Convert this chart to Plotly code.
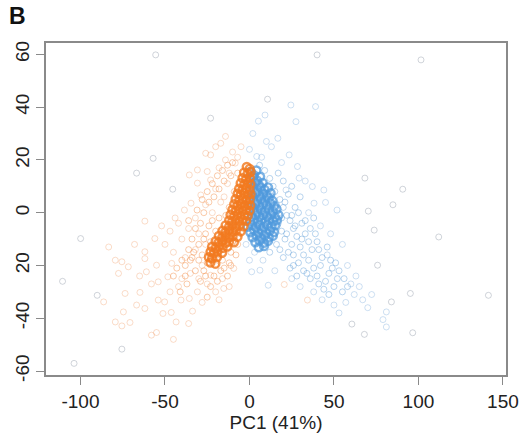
import plotly.graph_objects as go

# ---------------- data ----------------
gray_x = [-55.5, 40.0, 101.5, 10.7, -23.0, -57.0, -66.8, -45.4, -99.9, -110.6, -103.8, -75.5,
          68.3, 90.7, 70.3, 73.8, 112.0, 141.4, 95.2, 84.0, 60.6, 68.0, 96.6, 75.8, -90.1, 84.9]
gray_y = [59.8, 59.8, 57.9, 43.0, 35.8, 20.6, 15.0, 8.9, -9.8, -26.0, -57.1, -51.7,
          13.1, 8.9, 0.6, -6.6, -9.2, -31.3, -30.6, -33.8, -42.2, -46.1, -45.5, -19.9, -31.3, 3.0]

orange_sparse_x = [-14.2, -17.0, -25.9, -23.0, -14.2, -8.4, -30.8, -25.0, -35.6, -23.0, -30.8, -28.8,
                   -34.6, -38.5, -18.0, -12.0, -20.0, -15.0, -26.0, -22.0, -32.0, -42.0, -47.0, -20.0,
                   -10.0, -5.0, -7.0, -13.0, -17.0,
                   -83.3, -61.9, -79.4, -75.5, -77.5, -71.7, -61.9, -61.9, -56.0, -86.3, -73.6, -64.8,
                   -74.6, -66.8, -61.9, -79.4, -75.5, -70.7, -58.0, -55.0, -54.0, -50.2, -51.2, -46.3,
                   -43.4, -33.7, -40.5, -35.6, -30.8, -54.0, -48.3, -40.0, -35.0, -61.0, -55.0, -46.0,
                   -23.0, -9.3, -50.0, -45.0, -40.0, -38.0, -32.0, -28.0, -25.0, -30.0, -20.0, -42.0,
                   -47.0, -58.0, -65.0, -68.0, -52.0, -44.0, -36.0, -30.0, -26.0, -20.0, -16.0, -12.0,
                   -36.0, -28.0, -18.0, -45.0, 34.3, 20.6, -15.2]
orange_sparse_y = [28.9, 26.3, 22.5, 21.9, 20.0, 18.8, 16.2, 15.6, 14.3, 12.4, 11.2, 6.7,
                   3.6, 1.0, 17.0, 15.0, 9.0, 6.0, 3.0, 0.0, -2.0, -4.0, -7.0, 25.0,
                   23.0, 25.0, 21.0, 11.0, 4.0,
                   -13.0, -3.2, -18.0, -18.6, -23.0, -20.5, -14.8, -17.4, -9.8, -33.8, -30.6, -30.2,
                   -37.6, -35.0, -36.3, -41.4, -42.9, -41.6, -46.4, -45.4, -33.1, -33.8, -38.2, -37.8,
                   -41.4, -37.3, -33.1, -32.5, -30.0, -26.2, -24.3, -25.0, -23.0, -22.4, -19.9, -19.2,
                   -23.7, -21.1, -12.0, -15.0, -10.0, -17.0, -14.0, -20.0, -27.0, -25.0, -30.0, -28.0,
                   -30.0, -27.0, -24.0, -12.0, -5.0, -2.0, -6.0, -8.0, -12.0, -14.0, -25.0, -28.0,
                   -42.0, -34.0, -33.0, -48.0, -33.1, -27.2, -28.7]

orange_halo_x = [-38, -35, -33, -30, -28, -27, -25, -24, -23, -22, -21, -20, -19, -18, -17, -16,
                 -15, -14, -13, -12, -11, -10, -26, -24, -22, -20, -18, -16, -14, -12, -30, -34,
                 -29, -27, -24, -21, -18, -15, -11, -9,
                 -36, -40, -43, -38, -32, -29, -26, -23, -19, -15, -11, -8, -7, -32, -36, -31,
                 -28, -25, -22, -19, -16, -13, -10, -7, -27, -34, -45, -41, -37, -25]
orange_halo_y = [-20, -18, -15, -18, -16, -22, -19, -15, -11, -18, -24, -20, -16, -12, -22, -18,
                 -14, -10, -24, -19, -15, -11, -8, -5, -3, -7, -2, -6, -1, 2, -12, -10,
                 -4, 0, 4, 6, 9, 12, 14, 8,
                 -14, -18, -21, -24, -22, -26, -24, -28, -26, -21, -20, -16, -12, -6, -3, 1,
                 5, 8, 11, 14, 16, 18, 19, 15, -10, -17, -24, -30, -27, -32]

orange_core_x = [-1.6, 0.1, -3.2, -1.1, 0.6, -4.1, -2.0, 0.2,
                 -5.2, -3.0, -1.2, 0.5, -6.1, -4.1, -2.2, 0.0,
                 -7.0, -5.1, -3.2, -1.0, 0.6, -8.2, -6.0, -4.1, -2.0, 0.1,
                 -9.0, -7.1, -5.0, -3.1, -1.2, 0.4, -10.1, -8.0, -6.2, -4.0, -2.1, 0.0,
                 -11.2, -9.0, -7.1, -5.2, -3.0, -1.1, -12.0, -10.2, -8.1, -6.0, -4.1, -2.0,
                 -14.1, -12.0, -10.1, -8.2, -6.0, -3.6, -16.0, -14.2, -12.1, -10.0, -8.1, -5.2,
                 -18.1, -16.0, -14.1, -12.2, -10.0, -7.1, -20.0, -18.2, -16.1, -14.0, -12.1, -9.2,
                 -22.1, -20.0, -18.2, -16.0, -13.1, -23.0, -21.1, -19.0, -16.2,
                 -24.0, -22.1, -19.2, -23.1, -20.2]
orange_core_y = [17.3, 16.6, 15.2, 14.7, 15.4, 13.1, 12.6, 13.3,
                 11.2, 10.7, 11.4, 10.8, 9.1, 8.6, 9.3, 8.8,
                 7.2, 6.7, 7.4, 6.8, 7.1, 5.1, 4.6, 5.3, 4.7, 5.2,
                 3.2, 2.7, 3.3, 2.6, 3.1, 2.8, 1.1, 0.6, 1.3, 0.7, 1.2, 0.8,
                 -0.8, -1.3, -0.7, -1.4, -0.9, -1.2, -2.9, -3.4, -2.7, -3.3, -2.8, -3.1,
                 -4.8, -5.3, -4.7, -5.4, -4.9, -5.2, -6.9, -7.4, -6.7, -7.3, -6.8, -7.1,
                 -8.8, -9.3, -8.7, -9.4, -8.9, -9.1, -10.8, -11.3, -10.7, -11.4, -10.9, -11.2,
                 -12.9, -13.4, -12.7, -13.3, -12.8, -14.8, -15.3, -14.7, -15.2,
                 -16.9, -17.3, -16.8, -18.9, -19.3]

blue_sparse_x = [9.2, 5.3, 4.3, 7.2, 24.5, 39.1, 27.5, 16.8, 23.5, 28.4, 29.4, 37.2, 44.0, 45.0,
                 51.8, 38.2, 21.6, 33.0, 13.0, 19.0, 10.0, 2.0, 0.0, 35.0, 42.0, 48.0, 55.0, 58.0,
                 60.0, 62.0, 65.0, 57.0, 50.0, 43.0, 38.0, 30.0, 25.0, 1.3, 6.2, 11.1, 15.0, 8.0,
                 3.0, -2.0, 0.0, 70.0, 63.0, 72.3, 81.0, 79.0, 81.0, 53.0, 67.0, 46.0]
blue_sparse_y = [37.0, 34.7, 21.3, 21.0, 40.8, 40.2, 34.5, 28.2, 21.9, 17.5, 13.1, 9.9, 8.6, 3.9,
                 1.0, 3.6, 8.6, 12.0, 25.0, 19.0, 27.0, 30.0, 24.0, 0.0, -5.0, -8.0, -12.0, -20.0,
                 -27.0, -31.0, -28.0, -34.0, -35.0, -33.0, -30.0, -28.0, -25.0, -22.4, -21.8, -27.5, -22.0, -18.0,
                 -15.0, -12.0, -18.0, -36.0, -24.0, -31.0, -37.6, -40.5, -43.3, -38.0, -33.0, -16.0]

blue_mid_x = [15, 18, 20, 22, 17, 19, 21, 24, 26, 28, 25, 23, 30, 32, 29, 35, 38, 34, 40, 42,
              45, 47, 50, 44, 52, 55, 48, 37, 31, 27, 33, 40, 20, 16, 12, 26, 14, 12, 9, 6,
              13, 16, 19, 21, 23, 25, 27, 29, 31, 33, 36, 39, 41, 43, 46, 49, 51, 53, 56, 58,
              47, 41, 36, 32, 28, 24, 18, 22, 26, 35, 30, 25, 20, 17, 38]
blue_mid_y = [8, 5, 2, -1, -4, -7, -10, -3, -6, -9, -12, -15, -13, -16, -19, -18, -21, -23, -24, -20,
              -26, -23, -28, -29, -25, -30, -18, -14, -4, 2, -8, -11, -17, -12, -15, -20, 10, 13, 16, 18,
              6, 3, -2, 4, 7, -1, -5, 0, -10, -3, -6, -8, -14, -17, -13, -21, -19, -22, -25, -28,
              -31, -27, -25, -22, -24, -21, -14, -8, -16, -11, 6, 10, 12, 15, -2]

blue_core_x = [0.8, 2.6, 4.1, 0.5, 2.2, 4.4, 6.3, 1.2, 3.5, 5.6, 7.8,
               0.4, 2.4, 4.7, 6.6, 8.9, 11.0, 1.5, 3.6, 5.9, 8.1, 10.2, 12.5,
               0.3, 2.3, 4.5, 6.8, 9.0, 11.3, 13.6, 1.2, 3.4, 5.7, 7.9, 10.1, 12.4, 14.7,
               0.2, 2.5, 4.6, 6.9, 9.2, 11.5, 13.8, 16.0, 1.3, 3.6, 5.8, 8.0, 10.3, 12.6, 15.0, 17.2,
               0.4, 2.6, 4.9, 7.1, 9.4, 11.7, 14.0, 16.3, -1.0, 1.5, 3.8, 6.1, 8.4, 10.6, 13.0, 15.4,
               0.5, 2.8, 5.1, 7.4, 9.7, 12.1, 14.5, 1.8, 4.2, 6.6, 9.0, 11.4, 13.8,
               3.5, 6.0, 8.5, 11.0, 5.5, 8.6]
blue_core_y = [15.5, 14.2, 16.0, 12.6, 13.4, 12.2, 13.6, 10.7, 11.5, 10.4, 11.3,
               8.6, 9.4, 8.3, 9.5, 8.7, 9.6, 6.6, 7.5, 6.3, 7.2, 6.5, 7.4,
               4.7, 5.5, 4.4, 5.3, 4.6, 5.6, 4.5, 2.6, 3.5, 2.4, 3.3, 2.7, 3.6, 2.5,
               0.6, 1.4, 0.3, 1.2, 0.5, 1.5, 0.4, 1.3, -1.4, -0.7, -1.6, -0.8, -1.5, -0.6, -1.7, -0.9,
               -3.4, -2.6, -3.6, -2.7, -3.5, -2.5, -3.3, -2.8, -5.3, -4.6, -5.6, -4.7, -5.5, -4.6, -5.4, -4.8,
               -7.4, -6.6, -7.5, -6.7, -7.6, -6.8, -7.3, -9.3, -8.6, -9.5, -8.7, -9.4, -8.8,
               -11.2, -10.6, -11.4, -10.7, -13.1, -12.6]

x_ticks = [-100, -50, 0, 50, 100, 150]
y_ticks = [-60, -40, -20, 0, 20, 40, 60]
y_tick_text = ["-60", "-40", "20", "0", "20", "40", "60"]
x_title = "PC1 (41%)"
panel_label = "B"

# ---------------- figure ----------------
FONT = "Liberation Sans, Arial, Helvetica, sans-serif"

def pts(x, y, color, size=6, width=1.0):
    return go.Scatter(x=x, y=y, mode="markers", showlegend=False, hoverinfo="skip",
                      marker=dict(symbol="circle-open", size=size, color=color,
                                  line=dict(width=width, color=color)))

fig = go.Figure()
fig.add_trace(pts(gray_x, gray_y, "rgba(150,160,172,0.45)"))
fig.add_trace(pts(blue_sparse_x, blue_sparse_y, "rgba(105,160,215,0.33)"))
fig.add_trace(pts(blue_mid_x, blue_mid_y, "rgba(90,155,215,0.42)"))
fig.add_trace(pts(blue_core_x, blue_core_y, "rgba(80,153,220,0.75)", size=8, width=2.4))
fig.add_trace(pts(orange_sparse_x, orange_sparse_y, "rgba(240,150,90,0.33)"))
fig.add_trace(pts(orange_halo_x, orange_halo_y, "rgba(240,130,55,0.42)"))
fig.add_trace(pts(orange_core_x, orange_core_y, "rgba(242,122,32,0.82)", size=8, width=2.4))

axis_common = dict(showgrid=False, zeroline=False, showline=True, mirror=True,
                   linecolor="#8a8a8a", linewidth=1.5, ticks="outside", ticklen=8,
                   tickcolor="#8a8a8a", tickwidth=1.2,
                   tickfont=dict(family=FONT, size=19, color="#222"))

fig.update_xaxes(range=[-120.4, 151.8], tickvals=x_ticks, ticktext=[str(v) for v in x_ticks],
                 title=dict(text=x_title, font=dict(family=FONT, size=19, color="#222"), standoff=0),
                 **axis_common)
fig.update_yaxes(range=[-61.5, 64.3], tickvals=y_ticks, ticktext=y_tick_text, tickangle=-90,
                 **axis_common)

fig.add_annotation(text="<b>%s</b>" % panel_label, xref="paper", yref="paper",
                   x=(16 - 45) / 466, y=1 + (43 - 16) / 332, xanchor="center", yanchor="middle",
                   showarrow=False, font=dict(family=FONT, size=23, color="#111"))

fig.update_layout(width=531, height=439, margin=dict(l=45, r=20, t=43, b=64),
                  paper_bgcolor="white", plot_bgcolor="white")

fig.write_html("out.html")
